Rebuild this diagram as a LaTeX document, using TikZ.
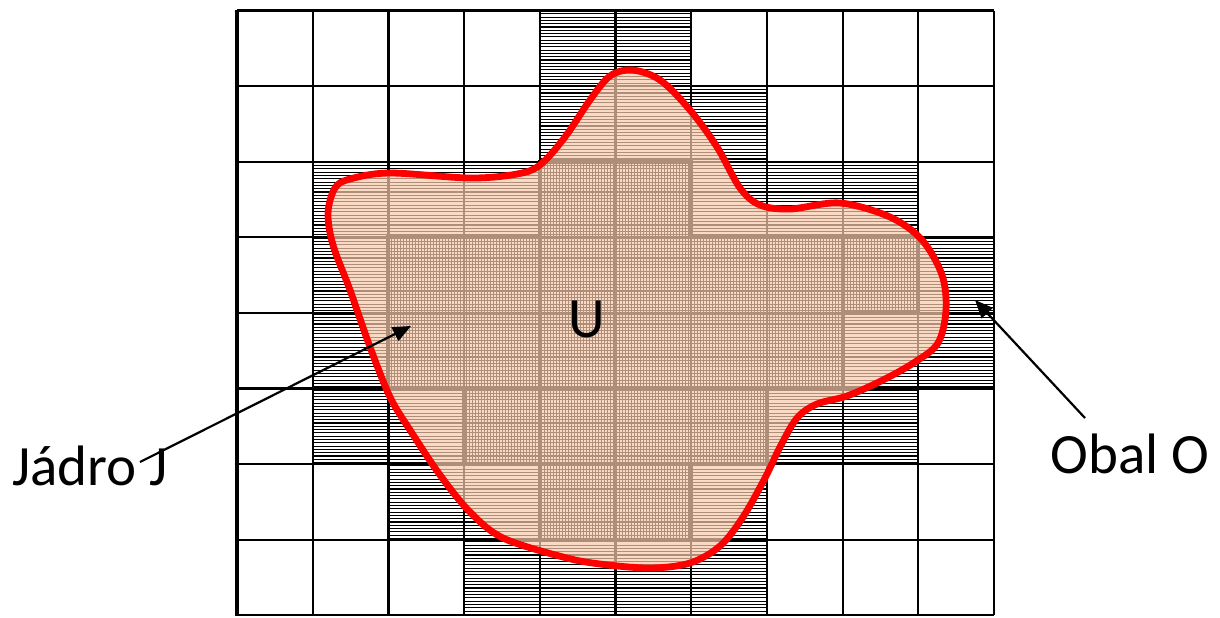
\documentclass[tikz,border=0pt]{standalone}
\usepackage{fontspec}
\setmainfont{Carlito}
\usetikzlibrary{arrows.meta}
\definecolor{peach}{RGB}{248,203,173}
\tikzset{
  gridline/.style={line width=1.1pt, black},
  hatchline/.style={line width=0.55pt, black},
  kernelline/.style={line width=2pt, black},
  blob/.style={fill=peach, fill opacity=0.7, draw=red, line width=3.4pt},
  arr/.style={line width=1.1pt, -{Triangle[length=9pt,width=7.5pt]}},
  lbl/.style={font=\fontsize{28.5}{34}\selectfont, inner sep=0pt},
}
\begin{document}
\begin{tikzpicture}[x=0.5pt,y=-0.5pt]
\useasboundingbox[fill=white] (0,0) rectangle (1220,617);
% horizontal hatching of the hull cells (Obal O)
\begin{scope}
\clip (539.8,10.5) rectangle (691.2,86.1)
      (539.8,86.1) rectangle (766.9,161.7)
      (312.7,161.7) rectangle (918.3,237.3)
      (312.7,237.3) rectangle (994,312.9)
      (312.7,312.9) rectangle (994,388.5)
      (312.7,388.5) rectangle (918.3,464.1)
      (388.4,464.1) rectangle (766.9,539.7)
      (464.1,539.7) rectangle (766.9,615.3);
\foreach \k in {0,...,184} \draw[hatchline] (237,{10.5+3.3*\k}) -- (994,{10.5+3.3*\k});
\end{scope}
% vertical hatching of the kernel cells (Jadro J)
\begin{scope}
\clip (539.8,161.7) -- (691.2,161.7) -- (691.2,237.3) -- (918.3,237.3) -- (918.3,312.9) -- (842.6,312.9) -- (842.6,388.5) -- (766.9,388.5) -- (766.9,464.1) -- (691.2,464.1) -- (691.2,539.7) -- (539.8,539.7) -- (539.8,464.1) -- (464.1,464.1) -- (464.1,388.5) -- (388.4,388.5) -- (388.4,237.3) -- (539.8,237.3) -- cycle;
\foreach \k in {0,...,180} \draw[hatchline] ({388.4+3*\k},161.7) -- ({388.4+3*\k},539.7);
\end{scope}
% grid
\foreach \c in {1,...,10} \draw[gridline] ({237+75.7*\c},10.5) -- ({237+75.7*\c},615.3);
\foreach \r in {0,...,8} \draw[gridline] (237,{10.5+75.6*\r}) -- (994,{10.5+75.6*\r});
\draw[line width=2pt] (237,9.5) -- (237,616.3);
% kernel outline
\draw[kernelline] (539.8,161.7) -- (691.2,161.7) -- (691.2,237.3) -- (918.3,237.3) -- (918.3,312.9) -- (842.6,312.9) -- (842.6,388.5) -- (766.9,388.5) -- (766.9,464.1) -- (691.2,464.1) -- (691.2,539.7) -- (539.8,539.7) -- (539.8,464.1) -- (464.1,464.1) -- (464.1,388.5) -- (388.4,388.5) -- (388.4,237.3) -- (539.8,237.3) -- cycle;
% the set U
\draw[blob] plot[smooth cycle, tension=0.55] coordinates {
 (632,70) (660,80) (690,110) (717,147) (740,188) (760,205) (790,209) (840,203)
 (890,217) (922,240) (942,275) (946,310) (938,343) (915,362) (883,380) (847,396)
 (817,404) (797,418) (780,447) (765,478) (743,517) (720,546) (690,563) (650,568)
 (600,564) (563,557) (503,538) (470,512) (440,475) (410,430) (390,397) (370,347)
 (350,290) (333,245) (328,213) (335,188) (350,179) (390,173) (470,178) (517,174)
 (540,165) (565,137) (590,100) (610,76)};
% labels
\node[lbl, anchor=base] (u) at (587,337) {U};
\node[lbl, anchor=base west] (jadro) at (12,485) {Jádro J};
\node[lbl, anchor=base west] (obal) at (1050,473) {Obal O};
% arrows
\coordinate (js) at (140,462);
\coordinate (jt) at (411,326);
\coordinate (os) at (1085,418);
\coordinate (ot) at (975,300);
\draw[arr] (js) -- (jt);
\draw[arr] (os) -- (ot);
\end{tikzpicture}
\end{document}
